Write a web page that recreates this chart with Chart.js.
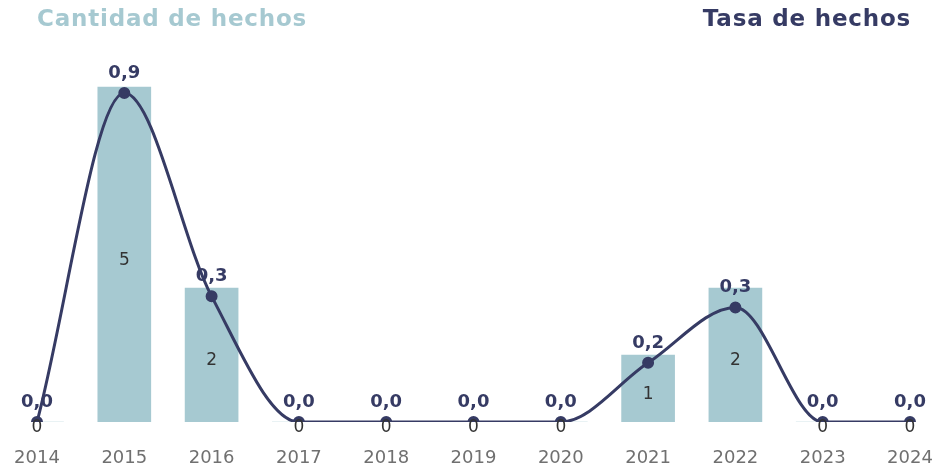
<!DOCTYPE html>
<html>
<head>
<meta charset="utf-8">
<script src="https://cdn.jsdelivr.net/npm/chart.js@4/dist/chart.umd.min.js"></script>
<style>
  body { margin: 0; background: #fff; }
  #wrap { width: 940px; height: 468px; }
</style>
</head>
<body>
<div id="wrap"><canvas id="chart1" width="940" height="468"></canvas></div>
<script>
var years = ['2014', '2015', '2016', '2017', '2018', '2019', '2020', '2021', '2022', '2023', '2024'];
var cantidad = [0, 5, 2, 0, 0, 0, 0, 1, 2, 0, 0];
var tasa = [0, 0.89, 0.34, 0, 0, 0, 0, 0.16, 0.31, 0, 0];

var barColor = '#a6c9d1';
var lineColor = '#363b64';

// labels for bars and line points, plus the two headings
var labelPlugin = {
  id: 'labels',
  afterDatasetsDraw: function (chart) {
    var ctx = chart.ctx;
    ctx.save();
    ctx.textAlign = 'center';
    ctx.textBaseline = 'middle';

    var barMeta = chart.getDatasetMeta(1);
    ctx.font = '17px "DejaVu Sans"';
    ctx.fillStyle = '#333333';
    barMeta.data.forEach(function (bar, i) {
      var y = (bar.y + bar.base) / 2 + 6;
      ctx.fillText(String(cantidad[i]), bar.x, y);
    });

    var lineMeta = chart.getDatasetMeta(0);
    ctx.font = 'bold 18px "DejaVu Sans"';
    ctx.fillStyle = lineColor;
    lineMeta.data.forEach(function (pt, i) {
      ctx.fillText(tasa[i].toFixed(1).replace('.', ','), pt.x, pt.y - 20);
    });

    ctx.font = 'bold 23px "DejaVu Sans"';
    ctx.letterSpacing = '0.8px';
    ctx.textAlign = 'left';
    ctx.fillStyle = barColor;
    ctx.fillText('Cantidad de hechos', 37, 20);
    ctx.textAlign = 'right';
    ctx.fillStyle = lineColor;
    ctx.fillText('Tasa de hechos', 911, 20);
    ctx.restore();
  }
};

var ctx = document.getElementById('chart1').getContext('2d');
new Chart(ctx, {
  data: {
    labels: years,
    datasets: [
      {
        type: 'line',
        label: 'Tasa de hechos',
        data: tasa,
        yAxisID: 'y2',
        borderColor: lineColor,
        backgroundColor: lineColor,
        borderWidth: 3,
        pointRadius: 4.5,
        pointHoverRadius: 4.5,
        cubicInterpolationMode: 'monotone',
        order: 0
      },
      {
        type: 'bar',
        label: 'Cantidad de hechos',
        data: cantidad,
        yAxisID: 'y',
        backgroundColor: barColor,
        barThickness: 53,
        order: 1
      }
    ]
  },
  options: {
    responsive: false,
    animation: false,
    layout: { padding: { left: 37, right: 30, top: 55, bottom: 0 } },
    plugins: {
      legend: { display: false },
      tooltip: { enabled: false }
    },
    scales: {
      x: {
        offset: false,
        grid: { display: false, drawTicks: false },
        border: { display: false },
        afterFit: function (scale) {
          scale.height = 46;
          scale.paddingLeft = 0;
          scale.paddingRight = 0;
        },
        ticks: {
          padding: 26,
          maxRotation: 0,
          autoSkip: false,
          color: '#707070',
          font: { family: 'DejaVu Sans', size: 18 }
        }
      },
      y: { display: false, min: 0, max: 5.478 },
      y2: { display: false, min: 0, max: 0.993 }
    }
  },
  plugins: [labelPlugin]
});
</script>
</body>
</html>
